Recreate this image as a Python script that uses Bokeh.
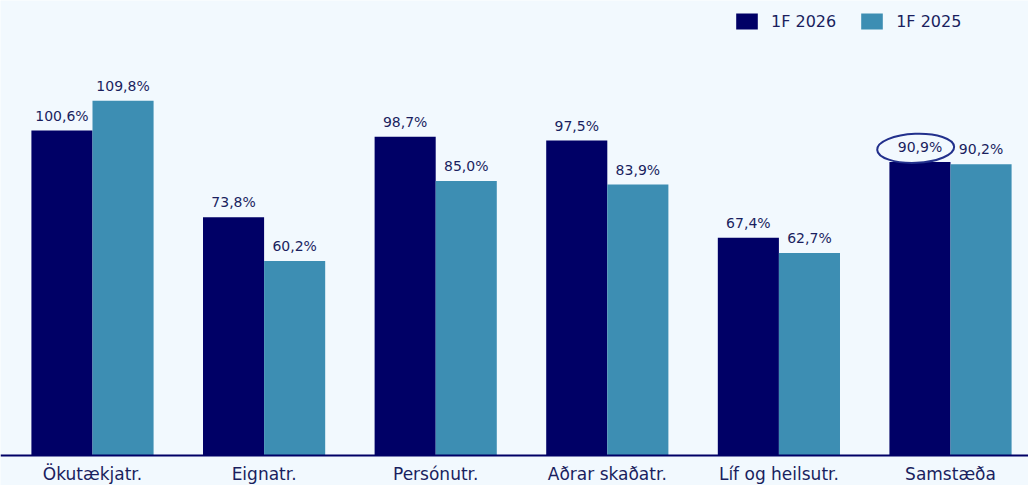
import numpy as np
from bokeh.plotting import figure
from bokeh.models import Range1d, ColumnDataSource, Legend, LegendItem, FixedTicker
from bokeh.core.properties import value
from bokeh.embed import file_html
from bokeh.resources import INLINE

# ---- data ----
categories = ["Ökutækjatr.", "Eignatr.", "Persónutr.", "Aðrar skaðatr.", "Líf og heilsutr.", "Samstæða"]
series_names = ["1F 2026", "1F 2025"]
values_2026 = [100.6, 73.8, 98.7, 97.5, 67.4, 90.9]
values_2025 = [109.8, 60.2, 85.0, 83.9, 62.7, 90.2]
highlight_category = "Samstæða"
highlight_series = "1F 2026"

# ---- style ----
BG = "#F2F9FE"
NAVY = "#000066"
TEAL = "#3D8EB3"
TEXT = "#1A1F5E"
FONT = "DejaVu Sans"
BAR_W = 0.356


def fmt(v):
    return f"{v:.1f}%".replace(".", ",")


idx = np.arange(len(categories)) + 0.5
x26 = idx - BAR_W / 2
x25 = idx + BAR_W / 2

src26 = ColumnDataSource(dict(x=x26, top=values_2026, lab=[fmt(v) for v in values_2026]))
src25 = ColumnDataSource(dict(x=x25, top=values_2025, lab=[fmt(v) for v in values_2025]))

p = figure(width=1028, height=485, x_range=Range1d(-0.0361, 5.9545), y_range=Range1d(-9.29, 140.87),
           min_border=0, min_border_left=0, min_border_right=0, min_border_top=0, min_border_bottom=0,
           y_axis_location=None, toolbar_location=None, output_backend="svg",
           background_fill_color=BG, border_fill_color=BG, outline_line_color=None)
p.grid.visible = False

r26 = p.vbar(x="x", top="top", bottom=0, width=BAR_W, source=src26, fill_color=NAVY, line_color=None)
r25 = p.vbar(x="x", top="top", bottom=0, width=BAR_W, source=src25, fill_color=TEAL, line_color=None)

for s in (src26, src25):
    p.text(x="x", y="top", text="lab", source=s, text_align="center", text_baseline="alphabetic",
           y_offset=-15, text_font=value(FONT), text_font_size="14px", text_color=TEXT)

# highlight ellipse
hi = categories.index(highlight_category)
hx = x26[hi] if highlight_series == "1F 2026" else x25[hi]
hv = values_2026[hi] if highlight_series == "1F 2026" else values_2025[hi]
p.ellipse(x=[hx - 0.025], y=[hv + 4.2], width=77, height=29, width_units="screen", height_units="screen",
          angle=0.04, fill_color=None, line_color="#22308C", line_width=2)

# axis drawn at y=0 inside the frame
p.xaxis.fixed_location = 0
p.xaxis.ticker = FixedTicker(ticks=list(idx))
p.xaxis.major_label_overrides = {float(t): c for t, c in zip(idx, categories)}
p.xaxis.major_label_text_font = FONT
p.xaxis.major_label_text_font_size = "17px"
p.xaxis.major_label_text_color = TEXT
p.xaxis.major_tick_line_color = None
p.xaxis.major_tick_out = 0
p.xaxis.major_tick_in = 0
p.xaxis.minor_tick_line_color = None
p.xaxis.minor_tick_out = 0
p.xaxis.minor_tick_in = 0
p.xaxis.axis_line_color = NAVY
p.xaxis.axis_line_width = 2
p.xaxis.major_label_standoff = 9

legend = Legend(items=[LegendItem(label=series_names[0], renderers=[r26]),
                       LegendItem(label=series_names[1], renderers=[r25])],
                location=(733, 454), orientation="horizontal", glyph_width=27, glyph_height=20,
                label_standoff=11, spacing=22, padding=0, margin=0, border_line_color=None,
                background_fill_alpha=0, label_text_font=FONT, label_text_font_size="16px",
                label_text_color=TEXT)
p.add_layout(legend)

html = file_html(p, INLINE)
html = html.replace("<body>", f'<body style="background-color:{BG};">', 1)
open("out.html", "w").write(html)
